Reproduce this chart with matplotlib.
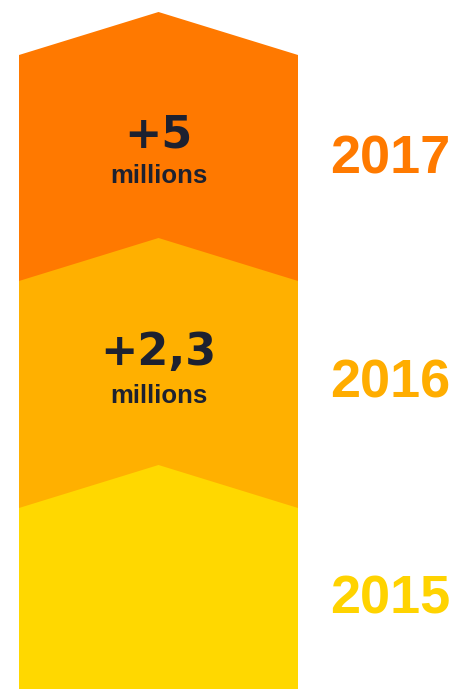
"""
Stacked chevron growth chart: +millions per year
"""

import matplotlib
matplotlib.use("Agg")
from matplotlib import pyplot as plt
from matplotlib.patches import Polygon

# data, top to bottom
years = ["2017", "2016", "2015"]
gains = ["+5", "+2,3", ""]
units = ["millions", "millions", ""]
colors = ["#FF7900", "#FFB000", "#FFD800"]
yearColors = ["#FF7A00", "#FFAD00", "#FFD300"]

# layout in pixels (y grows downwards)
W, H = 457, 689
colLeft, colRight = 19, 298
peaks = [12, 238, 465]
drop = 43
numBase = [147, 365]
unitBase = [183, 403]
yearBase = [173, 397, 613]
yearX = 330
ink = "#1D2130"

fig = plt.figure(figsize=(W / 100, H / 100), dpi=100)
ax = fig.add_axes([0, 0, 1, 1])
ax.set_xlim(0, W)
ax.set_ylim(H, 0)
ax.axis("off")

mid = (colLeft + colRight) / 2
for i, year in enumerate(years):
    top = peaks[i]
    pts = [(colLeft, top + drop), (mid, top), (colRight, top + drop),
           (colRight, H + 5), (colLeft, H + 5)]
    ax.add_patch(Polygon(pts, closed=True, facecolor=colors[i], edgecolor="none"))

    if gains[i]:
        ax.text(mid, numBase[i], gains[i], ha="center", va="baseline",
                fontsize=32, fontweight="bold", family="DejaVu Sans", color=ink)
        ax.text(mid, unitBase[i], units[i], ha="center", va="baseline",
                fontsize=18.5, fontweight="bold", family="Liberation Sans", color=ink)

    ax.text(yearX, yearBase[i], year, ha="left", va="baseline",
            fontsize=39, fontweight="bold", family="Liberation Sans", color=yearColors[i])

fig.savefig("out.png", dpi=100)
